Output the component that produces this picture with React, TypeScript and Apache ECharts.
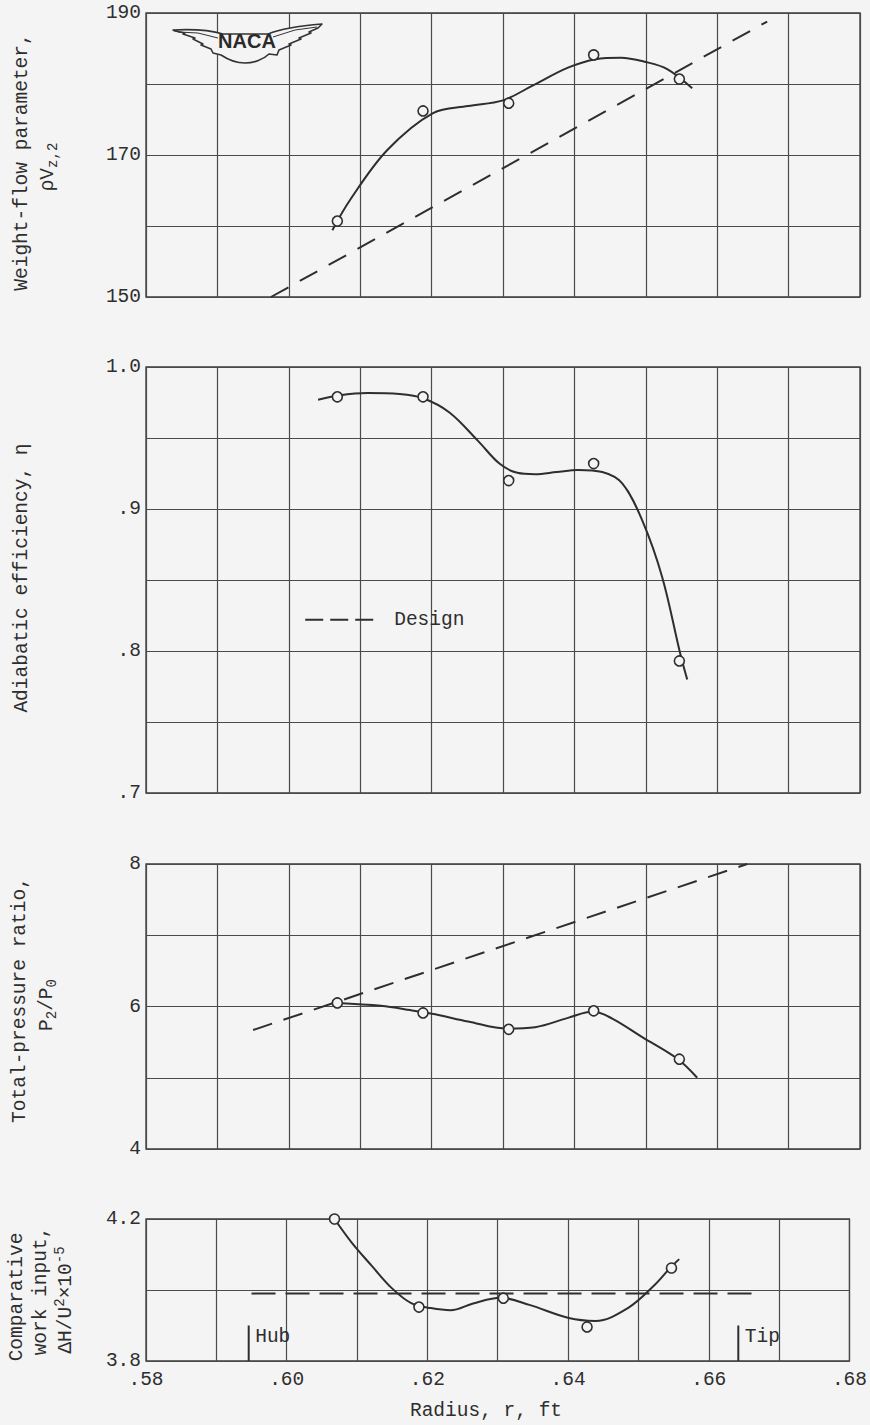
import React, { useEffect, useRef } from 'react';
import * as echarts from 'echarts';

// ---- data ----
const radius = [0.6068, 0.6188, 0.6308, 0.6427, 0.6547];
const weightFlow = [160.7, 176.2, 177.3, 184.1, 180.7];
const efficiency = [0.979, 0.979, 0.92, 0.932, 0.793];
const pressureRatio = [6.05, 5.91, 5.68, 5.94, 5.26];
const workInput = [4.2, 3.952, 3.977, 3.896, 4.062];

const fairedWeightFlow = [
  [0.6061, 159.4], [0.6086, 163.7], [0.6138, 170.7], [0.6202, 175.9], [0.6251, 176.9],
  [0.63, 177.7], [0.634, 179.7], [0.6391, 182.3], [0.643, 183.5], [0.6465, 183.7],
  [0.65, 183.1], [0.653, 182.1], [0.6565, 179.4],
];
const fairedEfficiency = [
  [0.6041, 0.977], [0.607, 0.98], [0.611, 0.9817], [0.6155, 0.981], [0.6188, 0.978],
  [0.6225, 0.968], [0.6265, 0.948], [0.6295, 0.932], [0.632, 0.9255], [0.6345, 0.9245],
  [0.6375, 0.926], [0.6405, 0.9275], [0.6439, 0.926], [0.6467, 0.918], [0.6495, 0.892],
  [0.6523, 0.852], [0.6548, 0.7986], [0.6558, 0.78],
];
const fairedPressureRatio = [
  [0.6068, 6.05], [0.6129, 6.01], [0.617, 5.95], [0.6205, 5.89], [0.6251, 5.79],
  [0.6306, 5.69], [0.6345, 5.71], [0.6391, 5.84], [0.6426, 5.93], [0.6453, 5.83],
  [0.6495, 5.57], [0.6545, 5.26], [0.6572, 5.0],
];
const fairedWorkInput = [
  [0.6068, 4.2], [0.6093, 4.132], [0.6121, 4.068], [0.6149, 4.006], [0.6177, 3.963],
  [0.6205, 3.949], [0.6233, 3.943], [0.6265, 3.962], [0.6304, 3.978], [0.6345, 3.958],
  [0.6401, 3.921], [0.6439, 3.913], [0.6485, 3.949], [0.6523, 4.014], [0.6545, 4.062],
  [0.6558, 4.087],
];

const designWeightFlow = [[0.5975, 150], [0.667, 188.8]];
const designPressureRatio = [[0.595, 5.67], [0.6642, 8.0]];
const designWorkInput = [[0.595, 3.99], [0.6664, 3.99]];
const designLegendKey = [[0.6023, 0.822], [0.6128, 0.822]];

const hubRadius = 0.5946;
const tipRadius = 0.6642;
const stationMarkTop = 3.9;
const stationLabelY = 3.868;

const xTickLabels = ['.58', '.60', '.62', '.64', '.66', '.68'];
const weightFlowTicks = ['150', '', '170', '', '190'];
const efficiencyTicks = ['.7', '', '.8', '', '.9', '', '1.0'];
const pressureTicks = ['4', '', '6', '', '8'];
const workTicks = ['3.8', '', '4.2'];

const BG = '#f4f4f4';
const INK = '#2e2e2e';
const GRIDC = '#4a4a4a';
const MONO = '"Liberation Mono", "Courier New", monospace';
const FS = 19.5;

function vLine(x: number, cy: number, segs: { t: string; k?: 'sub' | 'sup' }[]) {
  const sizes = segs.map((s) => (s.k ? FS * 0.72 : FS));
  const widths = segs.map((s, i) => s.t.length * 0.6 * sizes[i]);
  const total = widths.reduce((a, b) => a + b, 0);
  let y = cy + total / 2;
  const els: any[] = [];
  segs.forEach((s, i) => {
    const w = widths[i];
    const xoff = s.k === 'sub' ? 5 : s.k === 'sup' ? -6 : 0;
    els.push({
      type: 'text',
      x: x + xoff,
      y: y - w / 2,
      rotation: Math.PI / 2,
      z: 10,
      style: {
        text: s.t,
        fontFamily: MONO,
        fontSize: sizes[i],
        fill: INK,
        align: 'center',
        verticalAlign: 'middle',
      },
    });
    y -= w;
  });
  return els;
}

const wingPath =
  'M0,8 C20,7 40,9 50,12 L95,12 C105,8 125,4 149,2 ' +
  'L145,6 L136,10 L138,11 L126,16 L128,17 L116,22 L118,23 L106,28 L104,33 L96,32 ' +
  'C90,38 80,41 72,41 C62,41 54,37 48,33 L40,31 L38,27 L28,23 L30,22 L20,17 L22,16 ' +
  'L10,12 L12,11 L2,9 Z';

let registered = false;

export default function App() {
  const ref = useRef<HTMLDivElement>(null);
  useEffect(() => {
    if (!ref.current) return;
    if (!registered) {
      echarts.graphic.registerShape('nacaWing', echarts.graphic.extendPath(wingPath, {}) as any);
      registered = true;
    }
    const chart = echarts.init(ref.current, undefined, { renderer: 'svg' });

    const grids = [
      { top: 13, height: 284 },
      { top: 367, height: 426 },
      { top: 864, height: 285 },
      { top: 1219, height: 142 },
    ].map((g) => ({
      left: 146,
      width: 714,
      top: g.top,
      height: g.height,
      show: true,
      borderColor: '#3a3a3a',
      borderWidth: 1.3,
      backgroundColor: 'transparent',
    }));

    const xAxes = [0, 1, 2, 3].map((i) => ({
      type: 'value',
      gridIndex: i,
      min: 0.58,
      max: 0.68,
      interval: 0.01,
      axisLine: { show: false },
      axisTick: { show: false },
      splitLine: { show: true, lineStyle: { color: GRIDC, width: 1.2 } },
      axisLabel: {
        show: i === 3,
        margin: 9,
        fontFamily: MONO,
        fontSize: FS,
        color: INK,
        formatter: (v: number) => {
          const idx = Math.round((v - 0.58) * 100);
          return idx % 2 === 0 ? xTickLabels[idx / 2] : '';
        },
      },
    }));

    const yDefs = [
      { min: 150, max: 190, interval: 10, ticks: weightFlowTicks },
      { min: 0.7, max: 1.0, interval: 0.05, ticks: efficiencyTicks },
      { min: 4, max: 8, interval: 1, ticks: pressureTicks },
      { min: 3.8, max: 4.2, interval: 0.2, ticks: workTicks },
    ];
    const yAxes = yDefs.map((d, i) => ({
      type: 'value',
      gridIndex: i,
      min: d.min,
      max: d.max,
      interval: d.interval,
      axisLine: { show: false },
      axisTick: { show: false },
      splitLine: { show: true, lineStyle: { color: GRIDC, width: 1.2 } },
      axisLabel: {
        margin: 5,
        fontFamily: MONO,
        fontSize: FS,
        color: INK,
        formatter: (v: number) => {
          const idx = Math.round((v - d.min) / d.interval);
          return d.ticks[idx] ?? '';
        },
      },
    }));

    const faired = (data: number[][], i: number) => ({
      type: 'line',
      xAxisIndex: i,
      yAxisIndex: i,
      data,
      smooth: 0.35,
      symbol: 'none',
      lineStyle: { color: INK, width: 2 },
      z: 3,
    });
    const design = (data: number[][], i: number, dash: number[]) => ({
      type: 'line',
      name: 'Design',
      xAxisIndex: i,
      yAxisIndex: i,
      data,
      symbol: 'none',
      lineStyle: { color: INK, width: 2, type: dash },
      z: 3,
    });
    const points = (vals: number[], i: number) => ({
      type: 'scatter',
      xAxisIndex: i,
      yAxisIndex: i,
      data: radius.map((r, k) => [r, vals[k]]),
      symbol: 'circle',
      symbolSize: 10,
      itemStyle: { color: BG, borderColor: INK, borderWidth: 1.6, opacity: 1 },
      z: 5,
    });
    const station = (r: number, name: string) => [
      {
        type: 'line',
        xAxisIndex: 3,
        yAxisIndex: 3,
        data: [[r, 3.8], [r, stationMarkTop]],
        symbol: 'none',
        lineStyle: { color: INK, width: 2 },
        z: 3,
      },
      {
        type: 'scatter',
        xAxisIndex: 3,
        yAxisIndex: 3,
        data: [{ value: [r, stationLabelY], name }],
        symbol: 'circle',
        symbolSize: 1,
        itemStyle: { color: INK, opacity: 1 },
        label: {
          show: true,
          position: 'right',
          distance: 6,
          formatter: '{b}',
          fontFamily: MONO,
          fontSize: FS,
          color: INK,
          opacity: 1,
        },
        z: 2,
      },
    ];

    const series: any[] = [
      design(designWeightFlow, 0, [20, 13]),
      faired(fairedWeightFlow, 0),
      points(weightFlow, 0),
      faired(fairedEfficiency, 1),
      points(efficiency, 1),
      {
        ...design(designLegendKey, 1, [18, 7]),
        endLabel: {
          show: true,
          formatter: 'Design',
          distance: 14,
          fontFamily: MONO,
          fontSize: FS,
          color: INK,
        },
      },
      design(designPressureRatio, 2, [20, 12]),
      faired(fairedPressureRatio, 2),
      points(pressureRatio, 2),
      design(designWorkInput, 3, [24, 10]),
      faired(fairedWorkInput, 3),
      points(workInput, 3),
      ...station(hubRadius, 'Hub'),
      ...station(tipRadius, 'Tip'),
    ];

    const titleEls = [
      ...vLine(22, 162, [{ t: 'Weight-flow parameter,' }]),
      ...vLine(48, 167, [{ t: 'ρV' }, { t: 'z,2', k: 'sub' }]),
      ...vLine(22, 578, [{ t: 'Adiabatic efficiency, η' }]),
      ...vLine(20, 1000, [{ t: 'Total-pressure ratio,' }]),
      ...vLine(47, 1005, [{ t: 'P' }, { t: '2', k: 'sub' }, { t: '/' }, { t: 'P' }, { t: '0', k: 'sub' }]),
      ...vLine(17, 1297, [{ t: 'Comparative' }]),
      ...vLine(41, 1291, [{ t: 'work input,' }]),
      ...vLine(66, 1300, [{ t: 'ΔH/U' }, { t: '2', k: 'sup' }, { t: '×10' }, { t: '-5', k: 'sup' }]),
    ];

    const logo = {
      type: 'group',
      x: 173,
      y: 22,
      z: 10,
      children: [
        {
          type: 'nacaWing',
          z: 10,
          style: { fill: BG, stroke: '#333', lineWidth: 1.6, lineJoin: 'round' },
        },
        {
          type: 'polyline',
          z: 11,
          shape: { points: [[5, 10], [25, 11], [45, 16]] },
          style: { stroke: '#333', lineWidth: 1, fill: null },
        },
        {
          type: 'polyline',
          z: 11,
          shape: { points: [[144, 5], [122, 8], [100, 15]] },
          style: { stroke: '#333', lineWidth: 1, fill: null },
        },
        {
          type: 'text',
          x: 74,
          y: 19,
          z: 12,
          style: {
            text: 'NACA',
            fontFamily: '"Liberation Sans", Arial, sans-serif',
            fontWeight: 'bold',
            fontSize: 20,
            fill: '#2a2a2a',
            align: 'center',
            verticalAlign: 'middle',
          },
        },
      ],
    };

    const option: any = {
      animation: false,
      backgroundColor: BG,
      grid: grids,
      xAxis: xAxes,
      yAxis: yAxes,
      series,
      graphic: [
        ...titleEls,
        logo,
        {
          type: 'text',
          x: 486,
          y: 1411,
          z: 10,
          style: {
            text: 'Radius, r, ft',
            fontFamily: MONO,
            fontSize: FS,
            fill: INK,
            align: 'center',
            verticalAlign: 'middle',
          },
        },
      ],
    };
    chart.setOption(option);
    return () => chart.dispose();
  }, []);

  return (
    <div
      ref={ref}
      style={{ position: 'absolute', left: 0, top: 0, width: 870, height: 1425, background: BG }}
    />
  );
}
